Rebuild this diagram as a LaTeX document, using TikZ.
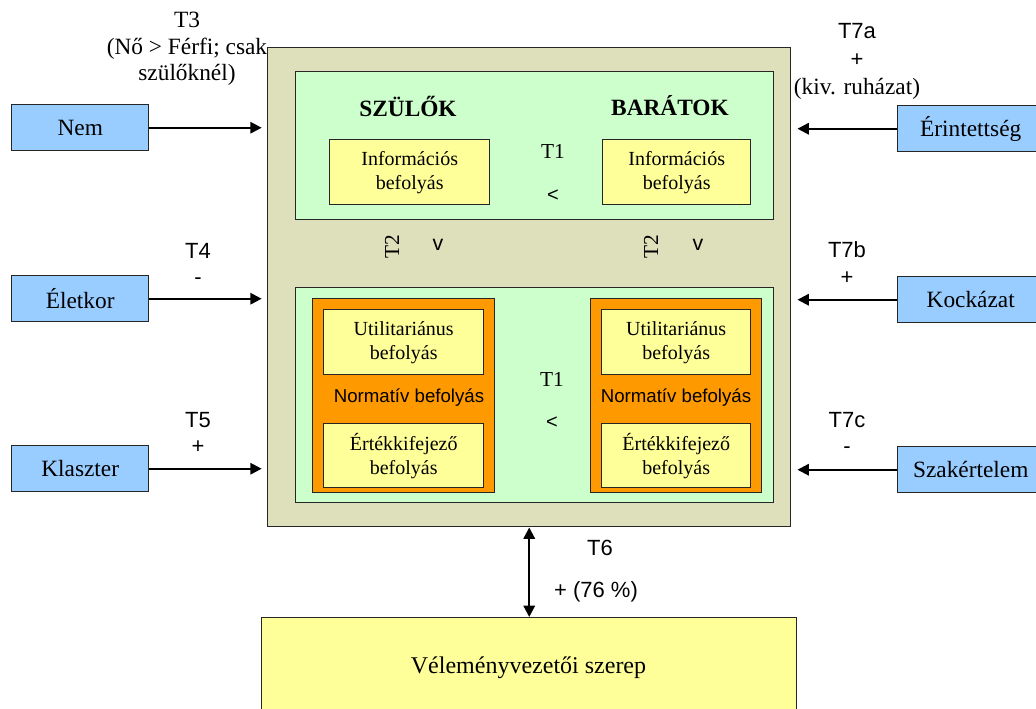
\documentclass[tikz,border=0pt]{standalone}
\usepackage{fontspec}
\setmainfont{Liberation Serif}
\setsansfont{Liberation Sans}
\usetikzlibrary{arrows.meta}
\definecolor{boxblue}{HTML}{99CCFF}
\definecolor{olive}{HTML}{DDE0BA}
\definecolor{mint}{HTML}{CCFFCC}
\definecolor{paleyellow}{HTML}{FFFF99}
\definecolor{amber}{HTML}{FF9900}
% font size with explicit line distance
\newcommand{\fs}[2]{\fontsize{#1pt}{#2pt}\selectfont}
\tikzset{
  px/.style={x=0.75pt,y=-0.75pt},
  panel/.style={draw=black!85,line width=1.1pt,inner sep=0pt,anchor=north west},
  factor/.style={panel,fill=boxblue},
  inflbox/.style={panel,fill=paleyellow},
  boxtext/.style={font=\fs{15}{18},align=center},
  factortext/.style={font=\fs{17.5}{21}},
  arr/.style={line width=1.6pt,-{Triangle[length=8.5pt,width=8.5pt]}},
  lbl/.style={align=center,font=\sffamily\fs{16.5}{20},inner sep=0pt},
}
\begin{document}
\begin{tikzpicture}[px]
\clip (0,0) rectangle (1036,709);
\fill[white] (0,0) rectangle (1036,709);

% central block
\node[panel,fill=olive,minimum width=523*0.75pt,minimum height=479*0.75pt] (core) at (267,47) {};
\node[panel,fill=mint,minimum width=478*0.75pt,minimum height=148*0.75pt] (upper) at (295,71) {};
\node[panel,fill=mint,minimum width=478*0.75pt,minimum height=215*0.75pt] (lower) at (295,287) {};

% upper panel: informational influence
\node[font=\bfseries\fs{17.5}{21}] (szul) at (408,106) {SZÜLŐK};
\node[font=\bfseries\fs{17.5}{21}] (barat) at (670,106) {BARÁTOK};
\node[inflbox,minimum width=160*0.75pt,minimum height=65*0.75pt] (infoL) at (329,139) {};
\node[boxtext] at (infoL.center) {Információs\\befolyás};
\node[inflbox,minimum width=148*0.75pt,minimum height=65*0.75pt] (infoR) at (602,139) {};
\node[boxtext] at (infoR.center) {Információs\\befolyás};
\node[font=\fs{16}{19}] (t1a) at (553,151) {T1};
\node[font=\sffamily\fs{15}{18}] (lta) at (553,196) {<};

% T2 relations between the panels
\node[font=\fs{16}{19},rotate=90] (t2L) at (392,247) {T2};
\node[font=\sffamily\fs{16}{19}] (vL) at (438,245) {v};
\node[font=\fs{16}{19},rotate=90] (t2R) at (651,247) {T2};
\node[font=\sffamily\fs{16}{19}] (vR) at (698,245) {v};

% lower panel: normative influence
\node[panel,fill=amber,minimum width=182*0.75pt,minimum height=194*0.75pt] (normL) at (312,298) {};
\node[panel,fill=amber,minimum width=171*0.75pt,minimum height=194*0.75pt] (normR) at (590,298) {};
\node[inflbox,minimum width=160*0.75pt,minimum height=65*0.75pt] (utilL) at (323,309) {};
\node[boxtext] at (utilL.center) {Utilitariánus\\befolyás};
\node[inflbox,minimum width=160*0.75pt,minimum height=64*0.75pt] (ertL) at (323,423) {};
\node[boxtext] at (ertL.center) {Értékkifejező\\befolyás};
\node[inflbox,minimum width=149*0.75pt,minimum height=65*0.75pt] (utilR) at (601,309) {};
\node[boxtext] at (utilR.center) {Utilitariánus\\befolyás};
\node[inflbox,minimum width=149*0.75pt,minimum height=64*0.75pt] (ertR) at (601,423) {};
\node[boxtext] at (ertR.center) {Értékkifejező\\befolyás};
\node[font=\sffamily\fs{14}{17}] (normLt) at (409,398) {Normatív befolyás};
\node[font=\sffamily\fs{14}{17}] (normRt) at (676,398) {Normatív befolyás};
\node[font=\fs{16}{19}] (t1b) at (552,379) {T1};
\node[font=\sffamily\fs{15}{18}] (ltb) at (552,423) {<};

% outcome
\node[panel,fill=paleyellow,minimum width=535*0.75pt,minimum height=110*0.75pt] (role) at (261,617) {};
\node[font=\fs{18}{21}] (roletxt) at (528.5,668) {Véleményvezetői szerep};

% input factors, left
\node[factor,minimum width=137*0.75pt,minimum height=46*0.75pt] (nem) at (11,104) {};
\node[factortext] at (nem.center) {Nem};
\node[factor,minimum width=137*0.75pt,minimum height=46*0.75pt] (kor) at (11,275) {};
\node[factortext] at (kor.center) {Életkor};
\node[factor,minimum width=137*0.75pt,minimum height=46*0.75pt] (klaszt) at (11,445) {};
\node[factortext] at (klaszt.center) {Klaszter};

% input factors, right
\node[factor,minimum width=146*0.75pt,minimum height=46*0.75pt] (erint) at (897,105) {};
\node[factortext] at (erint.center) {Érintettség};
\node[factor,minimum width=146*0.75pt,minimum height=46*0.75pt] (kock) at (897,276) {};
\node[factortext] at (kock.center) {Kockázat};
\node[factor,minimum width=146*0.75pt,minimum height=46*0.75pt] (szak) at (897,446) {};
\node[factortext] at (szak.center) {Szakértelem};

% connectors
\draw[arr,shorten >=4pt] (nem.east) -- (nem.east -| core.west);
\draw[arr,shorten >=4pt] (kor.east) -- (kor.east -| core.west);
\draw[arr,shorten >=4pt] (klaszt.east) -- (klaszt.east -| core.west);
\draw[arr,shorten >=4.5pt] (erint.west) -- (erint.west -| core.east);
\draw[arr,shorten >=4.5pt] (kock.west) -- (kock.west -| core.east);
\draw[arr,shorten >=4.5pt] (szak.west) -- (szak.west -| core.east);
\draw[arr,{Triangle[length=8.5pt,width=8.5pt]}-{Triangle[length=8.5pt,width=8.5pt]}] (core.south) -- (role.north);

% hypothesis labels
\node[align=center,inner sep=0pt,font=\fs{17.5}{20}] (t3) at (187,49) {T3\\(Nő > Férfi; csak\\szülőknél)};
\node[lbl,font=\sffamily\fs{16.5}{21}] (t7a) at (857,61) {T7a\\+\\{\rmfamily\fs{17.5}{21}(kiv. ruházat)}};
\node[lbl] (t4) at (198,264) {T4\\-};
\node[lbl] (t5) at (198,433) {T5\\+};
\node[lbl] (t7b) at (847,263) {T7b\\+};
\node[lbl] (t7c) at (847,433) {T7c\\-};
\node[lbl] (t6) at (600,548) {T6};
\node[lbl] (t6v) at (596,592) {+ (76 \%)};
\end{tikzpicture}
\end{document}
